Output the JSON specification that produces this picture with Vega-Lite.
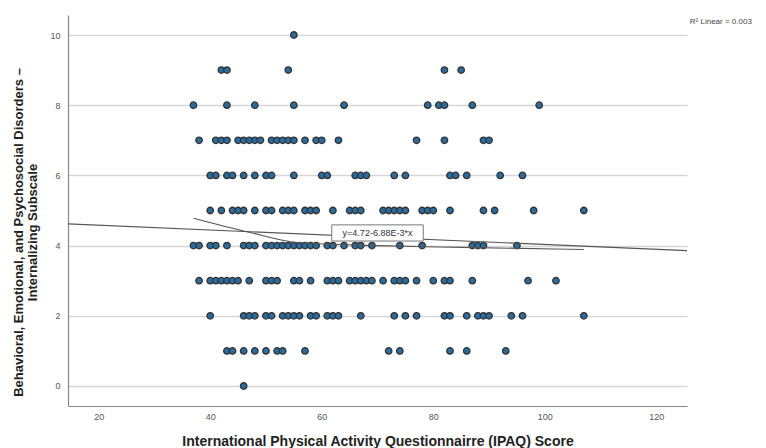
{
  "$schema": "https://vega.github.io/schema/vega-lite/v6.json",
  "width": 619,
  "height": 391,
  "autosize": {"type": "none"},
  "padding": {"left": 68, "top": 15, "right": 79, "bottom": 42},
  "background": "white",
  "config": {
    "view": {"stroke": null},
    "font": "Liberation Sans"
  },
  "datasets": {
    "points": [
      {"ipaq": 55, "score": 10},
      {"ipaq": 42, "score": 9}, {"ipaq": 43, "score": 9}, {"ipaq": 54, "score": 9}, {"ipaq": 82, "score": 9}, {"ipaq": 85, "score": 9},
      {"ipaq": 37, "score": 8}, {"ipaq": 43, "score": 8}, {"ipaq": 48, "score": 8}, {"ipaq": 55, "score": 8}, {"ipaq": 64, "score": 8}, {"ipaq": 79, "score": 8}, {"ipaq": 81, "score": 8}, {"ipaq": 82, "score": 8}, {"ipaq": 87, "score": 8}, {"ipaq": 99, "score": 8},
      {"ipaq": 38, "score": 7}, {"ipaq": 41, "score": 7}, {"ipaq": 42, "score": 7}, {"ipaq": 43, "score": 7}, {"ipaq": 45, "score": 7}, {"ipaq": 46, "score": 7}, {"ipaq": 47, "score": 7}, {"ipaq": 48, "score": 7}, {"ipaq": 49, "score": 7}, {"ipaq": 51, "score": 7}, {"ipaq": 52, "score": 7}, {"ipaq": 53, "score": 7}, {"ipaq": 54, "score": 7}, {"ipaq": 55, "score": 7}, {"ipaq": 57, "score": 7}, {"ipaq": 59, "score": 7}, {"ipaq": 60, "score": 7}, {"ipaq": 63, "score": 7}, {"ipaq": 77, "score": 7}, {"ipaq": 82, "score": 7}, {"ipaq": 89, "score": 7}, {"ipaq": 90, "score": 7},
      {"ipaq": 40, "score": 6}, {"ipaq": 41, "score": 6}, {"ipaq": 43, "score": 6}, {"ipaq": 44, "score": 6}, {"ipaq": 46, "score": 6}, {"ipaq": 48, "score": 6}, {"ipaq": 50, "score": 6}, {"ipaq": 51, "score": 6}, {"ipaq": 55, "score": 6}, {"ipaq": 60, "score": 6}, {"ipaq": 61, "score": 6}, {"ipaq": 66, "score": 6}, {"ipaq": 67, "score": 6}, {"ipaq": 68, "score": 6}, {"ipaq": 73, "score": 6}, {"ipaq": 75, "score": 6}, {"ipaq": 83, "score": 6}, {"ipaq": 84, "score": 6}, {"ipaq": 86, "score": 6}, {"ipaq": 92, "score": 6}, {"ipaq": 96, "score": 6},
      {"ipaq": 40, "score": 5}, {"ipaq": 42, "score": 5}, {"ipaq": 44, "score": 5}, {"ipaq": 45, "score": 5}, {"ipaq": 46, "score": 5}, {"ipaq": 48, "score": 5}, {"ipaq": 50, "score": 5}, {"ipaq": 51, "score": 5}, {"ipaq": 53, "score": 5}, {"ipaq": 54, "score": 5}, {"ipaq": 55, "score": 5}, {"ipaq": 57, "score": 5}, {"ipaq": 58, "score": 5}, {"ipaq": 59, "score": 5}, {"ipaq": 62, "score": 5}, {"ipaq": 65, "score": 5}, {"ipaq": 66, "score": 5}, {"ipaq": 67, "score": 5}, {"ipaq": 71, "score": 5}, {"ipaq": 72, "score": 5}, {"ipaq": 73, "score": 5}, {"ipaq": 74, "score": 5}, {"ipaq": 75, "score": 5}, {"ipaq": 78, "score": 5}, {"ipaq": 79, "score": 5}, {"ipaq": 80, "score": 5}, {"ipaq": 83, "score": 5}, {"ipaq": 89, "score": 5}, {"ipaq": 91, "score": 5}, {"ipaq": 98, "score": 5}, {"ipaq": 107, "score": 5},
      {"ipaq": 37, "score": 4}, {"ipaq": 38, "score": 4}, {"ipaq": 40, "score": 4}, {"ipaq": 41, "score": 4}, {"ipaq": 43, "score": 4}, {"ipaq": 46, "score": 4}, {"ipaq": 47, "score": 4}, {"ipaq": 48, "score": 4}, {"ipaq": 50, "score": 4}, {"ipaq": 51, "score": 4}, {"ipaq": 52, "score": 4}, {"ipaq": 53, "score": 4}, {"ipaq": 54, "score": 4}, {"ipaq": 55, "score": 4}, {"ipaq": 56, "score": 4}, {"ipaq": 57, "score": 4}, {"ipaq": 58, "score": 4}, {"ipaq": 59, "score": 4}, {"ipaq": 61, "score": 4}, {"ipaq": 62, "score": 4}, {"ipaq": 64, "score": 4}, {"ipaq": 66, "score": 4}, {"ipaq": 67, "score": 4}, {"ipaq": 69, "score": 4}, {"ipaq": 74, "score": 4}, {"ipaq": 78, "score": 4}, {"ipaq": 87, "score": 4}, {"ipaq": 88, "score": 4}, {"ipaq": 89, "score": 4}, {"ipaq": 95, "score": 4},
      {"ipaq": 38, "score": 3}, {"ipaq": 40, "score": 3}, {"ipaq": 41, "score": 3}, {"ipaq": 42, "score": 3}, {"ipaq": 43, "score": 3}, {"ipaq": 44, "score": 3}, {"ipaq": 45, "score": 3}, {"ipaq": 47, "score": 3}, {"ipaq": 50, "score": 3}, {"ipaq": 51, "score": 3}, {"ipaq": 52, "score": 3}, {"ipaq": 55, "score": 3}, {"ipaq": 56, "score": 3}, {"ipaq": 58, "score": 3}, {"ipaq": 61, "score": 3}, {"ipaq": 62, "score": 3}, {"ipaq": 63, "score": 3}, {"ipaq": 65, "score": 3}, {"ipaq": 66, "score": 3}, {"ipaq": 67, "score": 3}, {"ipaq": 68, "score": 3}, {"ipaq": 69, "score": 3}, {"ipaq": 71, "score": 3}, {"ipaq": 73, "score": 3}, {"ipaq": 74, "score": 3}, {"ipaq": 75, "score": 3}, {"ipaq": 77, "score": 3}, {"ipaq": 80, "score": 3}, {"ipaq": 82, "score": 3}, {"ipaq": 83, "score": 3}, {"ipaq": 87, "score": 3}, {"ipaq": 97, "score": 3}, {"ipaq": 102, "score": 3},
      {"ipaq": 40, "score": 2}, {"ipaq": 46, "score": 2}, {"ipaq": 47, "score": 2}, {"ipaq": 48, "score": 2}, {"ipaq": 50, "score": 2}, {"ipaq": 51, "score": 2}, {"ipaq": 53, "score": 2}, {"ipaq": 54, "score": 2}, {"ipaq": 55, "score": 2}, {"ipaq": 56, "score": 2}, {"ipaq": 58, "score": 2}, {"ipaq": 59, "score": 2}, {"ipaq": 61, "score": 2}, {"ipaq": 62, "score": 2}, {"ipaq": 63, "score": 2}, {"ipaq": 67, "score": 2}, {"ipaq": 73, "score": 2}, {"ipaq": 75, "score": 2}, {"ipaq": 77, "score": 2}, {"ipaq": 82, "score": 2}, {"ipaq": 83, "score": 2}, {"ipaq": 86, "score": 2}, {"ipaq": 88, "score": 2}, {"ipaq": 89, "score": 2}, {"ipaq": 90, "score": 2}, {"ipaq": 94, "score": 2}, {"ipaq": 96, "score": 2}, {"ipaq": 107, "score": 2},
      {"ipaq": 43, "score": 1}, {"ipaq": 44, "score": 1}, {"ipaq": 46, "score": 1}, {"ipaq": 48, "score": 1}, {"ipaq": 50, "score": 1}, {"ipaq": 52, "score": 1}, {"ipaq": 53, "score": 1}, {"ipaq": 57, "score": 1}, {"ipaq": 72, "score": 1}, {"ipaq": 74, "score": 1}, {"ipaq": 83, "score": 1}, {"ipaq": 86, "score": 1}, {"ipaq": 93, "score": 1},
      {"ipaq": 46, "score": 0}
    ],
    "fit": [
      {"ipaq": 14.5, "score": 4.62},
      {"ipaq": 125.5, "score": 3.856}
    ],
    "curve": [
      {"ipaq": 37, "score": 4.78},
      {"ipaq": 47, "score": 4.38},
      {"ipaq": 56, "score": 4.08},
      {"ipaq": 70, "score": 4.0},
      {"ipaq": 85, "score": 3.95},
      {"ipaq": 107, "score": 3.89}
    ],
    "label": [
      {"x1": 61.8, "x2": 78.2, "y1": 4.59, "y2": 4.13, "xm": 70, "ym": 4.36, "text": "y=4.72-6.88E-3*x"}
    ],
    "r2": [
      {"ipaq": 126.0, "score": 10.37, "text": "R² Linear = 0.003"}
    ]
  },
  "layer": [
    {
      "data": {"name": "points"},
      "mark": {"type": "point", "filled": true, "size": 42, "fill": "#2a6c9e", "stroke": "#333333", "strokeWidth": 1.3, "opacity": 1},
      "encoding": {
        "x": {
          "field": "ipaq", "type": "quantitative",
          "scale": {"domain": [14.5, 125.5], "nice": false, "zero": false},
          "axis": {
            "values": [20, 40, 60, 80, 100, 120],
            "grid": false,
            "ticks": false,
            "domainColor": "#888888",
            "domainWidth": 1.2,
            "labelFont": "Liberation Sans",
            "labelFontSize": 9,
            "labelColor": "#555555",
            "labelPadding": 6,
            "title": "International Physical Activity Questionnairre (IPAQ) Score",
            "titleFont": "Liberation Sans",
            "titleFontSize": 14,
            "titleFontWeight": "bold",
            "titleColor": "#222222",
            "titleY": 35,
            "titleBaseline": "middle"
          }
        },
        "y": {
          "field": "score", "type": "quantitative",
          "scale": {"domain": [-0.57, 10.57], "nice": false, "zero": false},
          "axis": {
            "values": [0, 2, 4, 6, 8, 10],
            "grid": true,
            "gridColor": "#d6d6d6",
            "gridWidth": 1.5,
            "ticks": false,
            "domainColor": "#888888",
            "domainWidth": 1.2,
            "labelFont": "Liberation Sans",
            "labelFontSize": 9,
            "labelColor": "#555555",
            "labelPadding": 8,
            "title": ["Behavioral, Emotional, and Psychosocial Disorders –", "Internalizing Subscale"],
            "titleFont": "Liberation Sans",
            "titleFontSize": 13,
            "titleFontWeight": "bold",
            "titleColor": "#222222",
            "titleX": -50,
            "titleY": 217,
            "titleAngle": -90,
            "titleAlign": "center",
            "titleBaseline": "middle",
            "titleLineHeight": 14
          }
        }
      }
    },
    {
      "data": {"name": "fit"},
      "mark": {"type": "line", "color": "#555555", "strokeWidth": 1.1},
      "encoding": {
        "x": {"field": "ipaq", "type": "quantitative"},
        "y": {"field": "score", "type": "quantitative"}
      }
    },
    {
      "data": {"name": "curve"},
      "mark": {"type": "line", "color": "#555555", "strokeWidth": 1.1, "interpolate": "monotone"},
      "encoding": {
        "x": {"field": "ipaq", "type": "quantitative"},
        "y": {"field": "score", "type": "quantitative"}
      }
    },
    {
      "data": {"name": "label"},
      "mark": {"type": "rect", "fill": "white", "stroke": "#777777", "strokeWidth": 1},
      "encoding": {
        "x": {"field": "x1", "type": "quantitative"},
        "x2": {"field": "x2"},
        "y": {"field": "y1", "type": "quantitative"},
        "y2": {"field": "y2"}
      }
    },
    {
      "data": {"name": "label"},
      "mark": {"type": "text", "font": "Liberation Sans", "fontSize": 9, "color": "#333333", "align": "center", "baseline": "middle"},
      "encoding": {
        "x": {"field": "xm", "type": "quantitative"},
        "y": {"field": "ym", "type": "quantitative"},
        "text": {"field": "text"}
      }
    },
    {
      "data": {"name": "r2"},
      "mark": {"type": "text", "font": "Liberation Sans", "fontSize": 8, "color": "#444444", "align": "left", "baseline": "middle", "clip": false},
      "encoding": {
        "x": {"field": "ipaq", "type": "quantitative"},
        "y": {"field": "score", "type": "quantitative"},
        "text": {"field": "text"}
      }
    }
  ]
}
